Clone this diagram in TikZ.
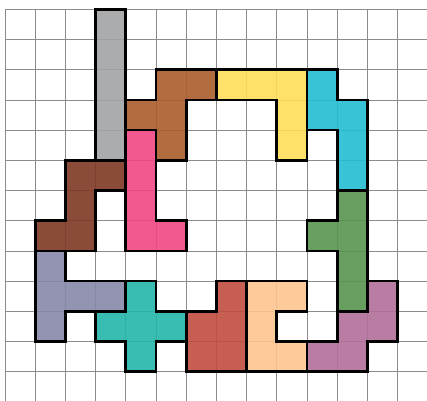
\documentclass[tikz,border=0pt]{standalone}
\begin{document}
\begin{tikzpicture}[x=1cm,y=-1cm,
  piece/.style={draw=black,line width=2.5pt,line join=miter,fill opacity=0.9},
  gridline/.style={draw=black!45,line width=0.7pt}]
\useasboundingbox (-0.166,-0.308) rectangle (13.973,12.937);
\definecolor{cgray}{HTML}{A2A3A5}
\definecolor{cbrown}{HTML}{A85C2A}
\definecolor{cyellow}{HTML}{FFDD5A}
\definecolor{ccyan}{HTML}{24BDD3}
\definecolor{cpink}{HTML}{EF4784}
\definecolor{cdbrown}{HTML}{7D3724}
\definecolor{clav}{HTML}{8787AA}
\definecolor{cteal}{HTML}{24B5A8}
\definecolor{cred}{HTML}{C04D3F}
\definecolor{cpeach}{HTML}{FFC48E}
\definecolor{cgreen}{HTML}{589550}
\definecolor{cpurple}{HTML}{B16E99}
\begin{scope}
\clip (-0.166,-0.308) rectangle (13.973,12.937);
\draw[gridline] (0,0) grid (14,13);
\end{scope}
% I gray
\path[piece,fill=cgray] (3,0) -- (4,0) -- (4,5) -- (3,5) -- cycle;
% F brown
\path[piece,fill=cbrown] (5,2) -- (7,2) -- (7,3) -- (6,3) -- (6,5) -- (5,5) -- (5,4) -- (4,4) -- (4,3) -- (5,3) -- cycle;
% V yellow
\path[piece,fill=cyellow] (7,2) -- (10,2) -- (10,5) -- (9,5) -- (9,3) -- (7,3) -- cycle;
% N cyan
\path[piece,fill=ccyan] (10,2) -- (11,2) -- (11,3) -- (12,3) -- (12,6) -- (11,6) -- (11,4) -- (10,4) -- cycle;
% L pink
\path[piece,fill=cpink] (4,4) -- (5,4) -- (5,7) -- (6,7) -- (6,8) -- (4,8) -- cycle;
% Z dark brown
\path[piece,fill=cdbrown] (2,5) -- (4,5) -- (4,6) -- (3,6) -- (3,8) -- (1,8) -- (1,7) -- (2,7) -- cycle;
% T lavender
\path[piece,fill=clav] (1,8) -- (2,8) -- (2,9) -- (4,9) -- (4,10) -- (2,10) -- (2,11) -- (1,11) -- cycle;
% X teal
\path[piece,fill=cteal] (4,9) -- (5,9) -- (5,10) -- (6,10) -- (6,11) -- (5,11) -- (5,12) -- (4,12) -- (4,11) -- (3,11) -- (3,10) -- (4,10) -- cycle;
% P red
\path[piece,fill=cred] (7,9) -- (8,9) -- (8,12) -- (6,12) -- (6,10) -- (7,10) -- cycle;
% U peach
\path[piece,fill=cpeach] (8,9) -- (10,9) -- (10,10) -- (9,10) -- (9,11) -- (10,11) -- (10,12) -- (8,12) -- cycle;
% Y green
\path[piece,fill=cgreen] (11,6) -- (12,6) -- (12,10) -- (11,10) -- (11,8) -- (10,8) -- (10,7) -- (11,7) -- cycle;
% W purple
\path[piece,fill=cpurple] (12,9) -- (13,9) -- (13,11) -- (12,11) -- (12,12) -- (10,12) -- (10,11) -- (11,11) -- (11,10) -- (12,10) -- cycle;
\end{tikzpicture}
\end{document}
